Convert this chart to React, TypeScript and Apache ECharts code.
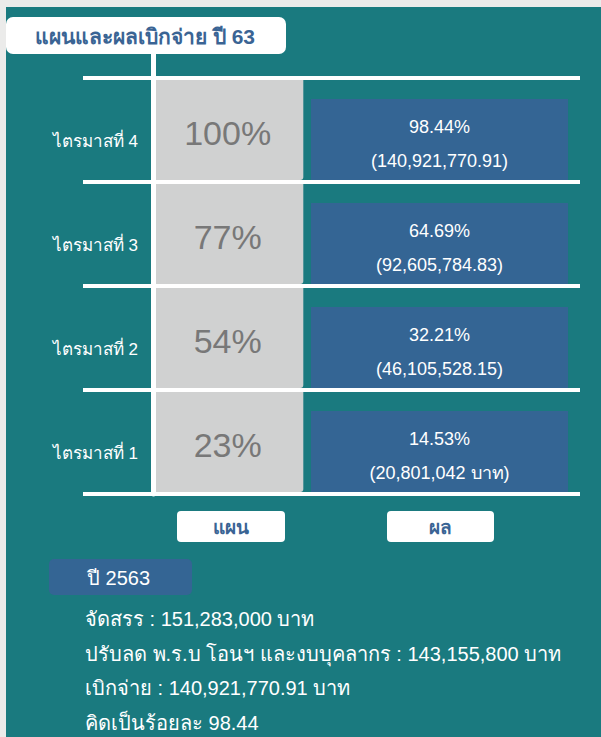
import React, { useEffect, useRef } from 'react';
import * as echarts from 'echarts';

const quarters = ['ไตรมาสที่ 1', 'ไตรมาสที่ 2', 'ไตรมาสที่ 3', 'ไตรมาสที่ 4'];
const columns = ['แผน', 'ผล'];
const planPercent = [23, 54, 77, 100];
const resultPercent = [14.53, 32.21, 64.69, 98.44];
const resultAmount = ['20,801,042 บาท', '46,105,528.15', '92,605,784.83', '140,921,770.91'];
const titleText = 'แผนและผลเบิกจ่าย ปี 63';
const yearLabel = 'ปี 2563';
const summaryLines = [
  'จัดสรร : 151,283,000 บาท',
  'ปรับลด พ.ร.บ โอนฯ และงบบุคลากร : 143,155,800 บาท',
  'เบิกจ่าย : 140,921,770.91 บาท',
  'คิดเป็นร้อยละ 98.44',
];

const PAGE = '#EBEBEA';
const TEAL = '#1A7A7F';
const BLUE = '#346594';
const GRAY = '#D0D1D1';
const TITLE_BLUE = '#3A6494';
const FONT = "'Liberation Sans', Arial, 'Noto Sans', sans-serif";

function renderCell(params: any, api: any) {
  const col = api.value(0);
  const row = api.value(1);
  const c = api.coord([col, row]);
  const size = api.size([1, 1]);
  const bw = size[0];
  const bh = size[1];
  const bandLeft = c[0] - bw / 2;
  const top = c[1] - bh / 2;
  const bottom = c[1] + bh / 2;
  if (col === 0) {
    const x = bandLeft + 3;
    const w = bw * 0.69;
    const y = top + 2;
    const h = bottom - 2 - y;
    return {
      type: 'group',
      children: [
        { type: 'rect', shape: { x, y, width: w, height: h, r: [0, 0, 3, 0] }, style: { fill: GRAY } },
        {
          type: 'text',
          x: x + w / 2 - 2,
          y: y + h / 2 + 3,
          style: {
            text: planPercent[row] + '%',
            fill: '#787878',
            fontSize: 34,
            fontFamily: FONT,
            align: 'center',
            verticalAlign: 'middle',
          },
        },
      ],
    };
  }
  const x = bandLeft - bw * 0.26;
  const w = bw * 1.204;
  const y = top + 21;
  const h = bottom - 2 - y;
  return {
    type: 'group',
    children: [
      { type: 'rect', shape: { x, y, width: w, height: h }, style: { fill: BLUE } },
      {
        type: 'text',
        x: x + w / 2,
        y: y + h / 2 + 4,
        style: {
          text: resultPercent[row].toFixed(2) + '%\n(' + resultAmount[row] + ')',
          fill: '#FFFFFF',
          fontSize: 18,
          lineHeight: 34,
          fontFamily: FONT,
          align: 'center',
          verticalAlign: 'middle',
        },
      },
    ],
  };
}

export default function App() {
  const ref = useRef<HTMLDivElement>(null);
  useEffect(() => {
    if (!ref.current) return;
    const chart = echarts.init(ref.current, null, { renderer: 'svg' });
    const graphics: any[] = [
      { type: 'rect', z: -10, silent: true, shape: { x: 6, y: 7, width: 595, height: 730 }, style: { fill: TEAL } },
      { type: 'rect', shape: { x: 6, y: 17, width: 280, height: 37, r: 7 }, style: { fill: '#FFFFFF' } },
      {
        type: 'text', x: 145, y: 36,
        style: { text: titleText, fill: TITLE_BLUE, fontSize: 21, fontWeight: 'bold', fontFamily: FONT, align: 'center', verticalAlign: 'middle' },
      },
      { type: 'line', shape: { x1: 153.5, y1: 54, x2: 153.5, y2: 80 }, style: { stroke: '#FFFFFF', lineWidth: 5 } },
      { type: 'rect', shape: { x: 177, y: 511, width: 108, height: 31, r: 4 }, style: { fill: '#FFFFFF' } },
      {
        type: 'text', x: 231, y: 527,
        style: { text: columns[0], fill: TITLE_BLUE, fontSize: 19, fontWeight: 'bold', fontFamily: FONT, align: 'center', verticalAlign: 'middle' },
      },
      { type: 'rect', shape: { x: 387, y: 511, width: 107, height: 31, r: 4 }, style: { fill: '#FFFFFF' } },
      {
        type: 'text', x: 440.5, y: 527,
        style: { text: columns[1], fill: TITLE_BLUE, fontSize: 19, fontWeight: 'bold', fontFamily: FONT, align: 'center', verticalAlign: 'middle' },
      },
      { type: 'rect', shape: { x: 49, y: 559, width: 143, height: 36, r: 5 }, style: { fill: BLUE } },
      {
        type: 'text', x: 87, y: 578,
        style: { text: yearLabel, fill: '#FFFFFF', fontSize: 20, fontFamily: FONT, align: 'left', verticalAlign: 'middle' },
      },
    ];
    summaryLines.forEach((t, i) => {
      graphics.push({
        type: 'text', x: 85, y: 619 + i * 34.5,
        style: { text: t, fill: '#FFFFFF', fontSize: 20, fontFamily: FONT, align: 'left', verticalAlign: 'middle' },
      });
    });

    const option: any = {
      animation: false,
      backgroundColor: PAGE,
      graphic: graphics,
      grid: { left: 153, right: 21, top: 78, bottom: 243 },
      xAxis: { type: 'category', data: columns, show: false },
      yAxis: {
        type: 'category',
        data: quarters,
        axisLine: { show: true, lineStyle: { color: '#FFFFFF', width: 5 } },
        axisTick: { show: true, length: 70, lineStyle: { color: '#FFFFFF', width: 4 } },
        splitLine: { show: true, lineStyle: { color: '#FFFFFF', width: 4 } },
        axisLabel: {
          color: '#FFFFFF', fontSize: 17, margin: 15, fontFamily: FONT,
          verticalAlign: 'top', lineHeight: 22,
        },
      },
      series: [
        {
          type: 'custom', name: columns[0], renderItem: renderCell,
          encode: { x: 0, y: 1 },
          data: planPercent.map((v, i) => [0, i, v]),
        },
        {
          type: 'custom', name: columns[1], renderItem: renderCell,
          encode: { x: 0, y: 1 },
          data: resultPercent.map((v, i) => [1, i, v]),
        },
      ],
    };
    chart.setOption(option);
    return () => chart.dispose();
  }, []);
  return <div ref={ref} style={{ position: 'fixed', left: 0, top: 0, width: 601, height: 737 }} />;
}
